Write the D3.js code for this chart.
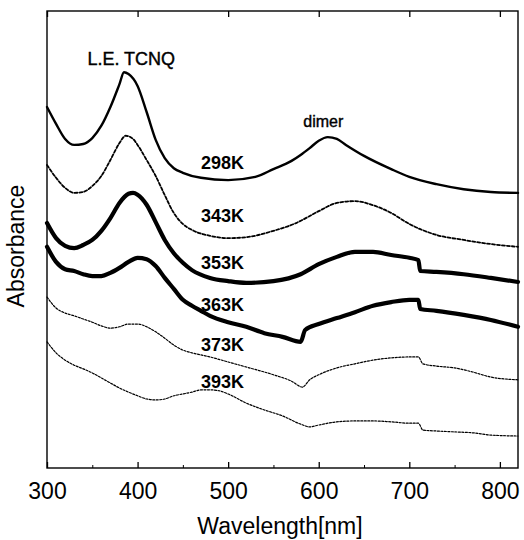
<!DOCTYPE html>
<html>
<head>
<meta charset="utf-8">
<script src="https://cdn.jsdelivr.net/npm/d3@7"></script>
<style>
  body { margin: 0; background: #fff; }
  svg text { font-family: "Liberation Sans", Arial, sans-serif; fill: #000; }
</style>
</head>
<body>
<svg id="chart" width="524" height="540"></svg>
<script>
// wavelength grid for each spectrum (nm) and absorbance (offset, arb. units)
const wl298 = [300,310,320,330,340,350,360,370,380,385,390,400,410,420,430,440,450,470,500,530,550,570,580,590,600,610,620,630,650,680,700,730,760,790,820]
const abs298 = [7.90,7.53,7.20,7.07,7.09,7.22,7.49,7.90,8.40,8.66,8.62,8.36,7.79,7.18,6.78,6.56,6.46,6.35,6.30,6.37,6.54,6.72,6.85,7.00,7.16,7.24,7.20,7.07,6.83,6.54,6.37,6.21,6.10,6.04,6.02]

const wl343 = [300,310,320,330,340,350,360,370,380,387,395,400,410,420,430,440,450,460,480,500,520,550,575,600,620,640,660,680,700,730,760,790,820]
const abs343 = [6.63,6.35,6.13,6.02,6.04,6.17,6.39,6.74,7.11,7.27,7.20,7.07,6.74,6.39,5.97,5.58,5.34,5.21,5.08,5.03,5.05,5.19,5.36,5.62,5.80,5.84,5.75,5.58,5.34,5.10,4.99,4.90,4.84]

const wl353 = [300,310,320,330,340,350,360,370,380,390,395,400,410,420,430,440,450,460,480,500,520,550,580,600,620,640,660,680,700,710,712,730,760,790,820]
const abs353 = [5.36,5.03,4.86,4.81,4.88,4.99,5.19,5.47,5.80,6.00,6.02,5.98,5.76,5.38,4.99,4.70,4.49,4.33,4.16,4.09,4.05,4.09,4.24,4.46,4.62,4.73,4.73,4.66,4.60,4.55,4.31,4.29,4.24,4.16,4.07]

const wl363 = [300,310,320,330,340,350,360,370,380,390,400,410,420,430,440,450,460,470,480,500,520,540,560,580,585,600,620,640,660,680,700,710,712,730,760,790,820]
const abs363 = [4.84,4.51,4.35,4.31,4.24,4.20,4.20,4.27,4.38,4.51,4.60,4.57,4.42,4.16,3.92,3.68,3.55,3.44,3.33,3.19,3.09,2.95,2.87,2.76,3.02,3.15,3.28,3.41,3.55,3.63,3.68,3.68,3.48,3.44,3.35,3.24,3.09]

const wl373 = [300,310,320,330,340,350,360,370,380,390,400,410,420,430,440,450,460,480,500,520,550,570,582,590,600,620,640,660,680,700,710,715,730,750,770,790,820]
const abs373 = [3.74,3.50,3.39,3.33,3.26,3.19,3.11,3.06,3.09,3.15,3.15,3.09,2.98,2.84,2.69,2.58,2.52,2.43,2.32,2.21,2.04,1.90,1.77,1.93,2.04,2.19,2.28,2.36,2.41,2.43,2.43,2.28,2.23,2.19,2.10,1.99,1.93]

const wl393 = [300,310,320,330,340,350,360,370,380,390,400,410,420,430,440,450,460,470,480,490,500,520,540,560,580,590,600,620,640,660,680,700,710,715,730,750,770,790,820]
const abs393 = [2.76,2.52,2.36,2.25,2.17,2.08,1.97,1.86,1.75,1.66,1.58,1.51,1.49,1.51,1.58,1.62,1.66,1.71,1.71,1.69,1.62,1.42,1.27,1.14,0.96,0.90,0.94,1.01,1.03,1.03,1.01,0.98,0.98,0.83,0.81,0.79,0.77,0.72,0.70]

const temps = ['298K', '343K', '353K', '363K', '373K', '393K']
// where each temperature label sits (nm, absorbance)
const labelWl = [470, 470, 470, 470, 470, 470]
const labelAbs = [6.54, 5.38, 4.35, 3.44, 2.56, 1.75]

const xTicks = [300, 400, 500, 600, 700, 800]
const xMinor = [350, 450, 550, 650, 750]

const series = [
  {name: '298K', wl: wl298, a: abs298, w: 2.4, dash: null},
  {name: '343K', wl: wl343, a: abs343, w: 1.8, dash: '3,2'},
  {name: '353K', wl: wl353, a: abs353, w: 4.2, dash: null},
  {name: '363K', wl: wl363, a: abs363, w: 4.2, dash: null},
  {name: '373K', wl: wl373, a: abs373, w: 1.2, dash: '2,1.5'},
  {name: '393K', wl: wl393, a: abs393, w: 1.2, dash: '2,1.5'},
]

const svg = d3.select('#chart')
const margin = {left: 47, right: 6, top: 11, bottom: 72}
const width = 524 - margin.left - margin.right
const height = 540 - margin.top - margin.bottom

const g = svg.append('g').attr('transform', `translate(${margin.left},${margin.top})`)

const x = d3.scaleLinear().domain([300, 820]).range([0, width])
const y = d3.scaleLinear().domain([0, 10]).range([height, 0])

// spectra
const line = d3.line().curve(d3.curveMonotoneX).x(d => x(d[0])).y(d => y(d[1]))
series.forEach(s => {
  const pts = s.wl.map((v, i) => [v, s.a[i]])
  g.append('path')
    .datum(pts)
    .attr('fill', 'none')
    .attr('stroke', '#000')
    .attr('stroke-width', s.w)
    .attr('stroke-linejoin', 'round')
    .attr('stroke-linecap', 'round')
    .attr('stroke-dasharray', s.dash)
    .attr('d', line)
})

// frame
g.append('rect').attr('width', width).attr('height', height)
  .attr('fill', 'none').attr('stroke', '#000').attr('stroke-width', 1.4)

// bottom axis, ticks point inward
const xAxis = g.append('g').attr('transform', `translate(0,${height})`)
  .call(d3.axisBottom(x).tickValues(xTicks).tickSize(-6).tickPadding(31).tickFormat(d3.format('d')))
xAxis.select('.domain').remove()
xAxis.selectAll('line').attr('stroke-width', 1.3)
xAxis.selectAll('text').attr('font-size', 23).attr('dy', 0)
  .attr('font-family', '"Liberation Sans", Arial, sans-serif')

g.append('g').attr('transform', `translate(0,${height})`)
  .call(d3.axisBottom(x).tickValues(xMinor).tickSize(-3).tickFormat(''))
  .call(a => a.select('.domain').remove())

// top axis, inward ticks only
g.append('g')
  .call(d3.axisTop(x).tickValues(xTicks).tickSize(-6).tickFormat(''))
  .call(a => a.select('.domain').remove())
  .selectAll('line').attr('stroke-width', 1.3)

// axis titles
svg.append('text').attr('x', 280).attr('y', 534)
  .attr('text-anchor', 'middle').attr('font-size', 23)
  .text('Wavelength[nm]')

svg.append('text').attr('transform', 'translate(24,246) rotate(-90)')
  .attr('text-anchor', 'middle').attr('font-size', 23)
  .text('Absorbance')

// peak annotations
g.append('text').attr('x', x(393)).attr('y', y(8.82))
  .attr('text-anchor', 'middle').attr('font-size', 18)
  .attr('stroke', '#000').attr('stroke-width', 0.4)
  .text('L.E. TCNQ')

g.append('text').attr('x', x(605)).attr('y', y(7.46))
  .attr('text-anchor', 'middle').attr('font-size', 16)
  .attr('stroke', '#000').attr('stroke-width', 0.4)
  .text('dimer')

// temperature labels
temps.forEach((t, i) => {
  g.append('text').attr('x', x(labelWl[i])).attr('y', y(labelAbs[i]))
    .attr('font-size', 18).attr('font-weight', 'bold')
    .text(t)
})
</script>
</body>
</html>
